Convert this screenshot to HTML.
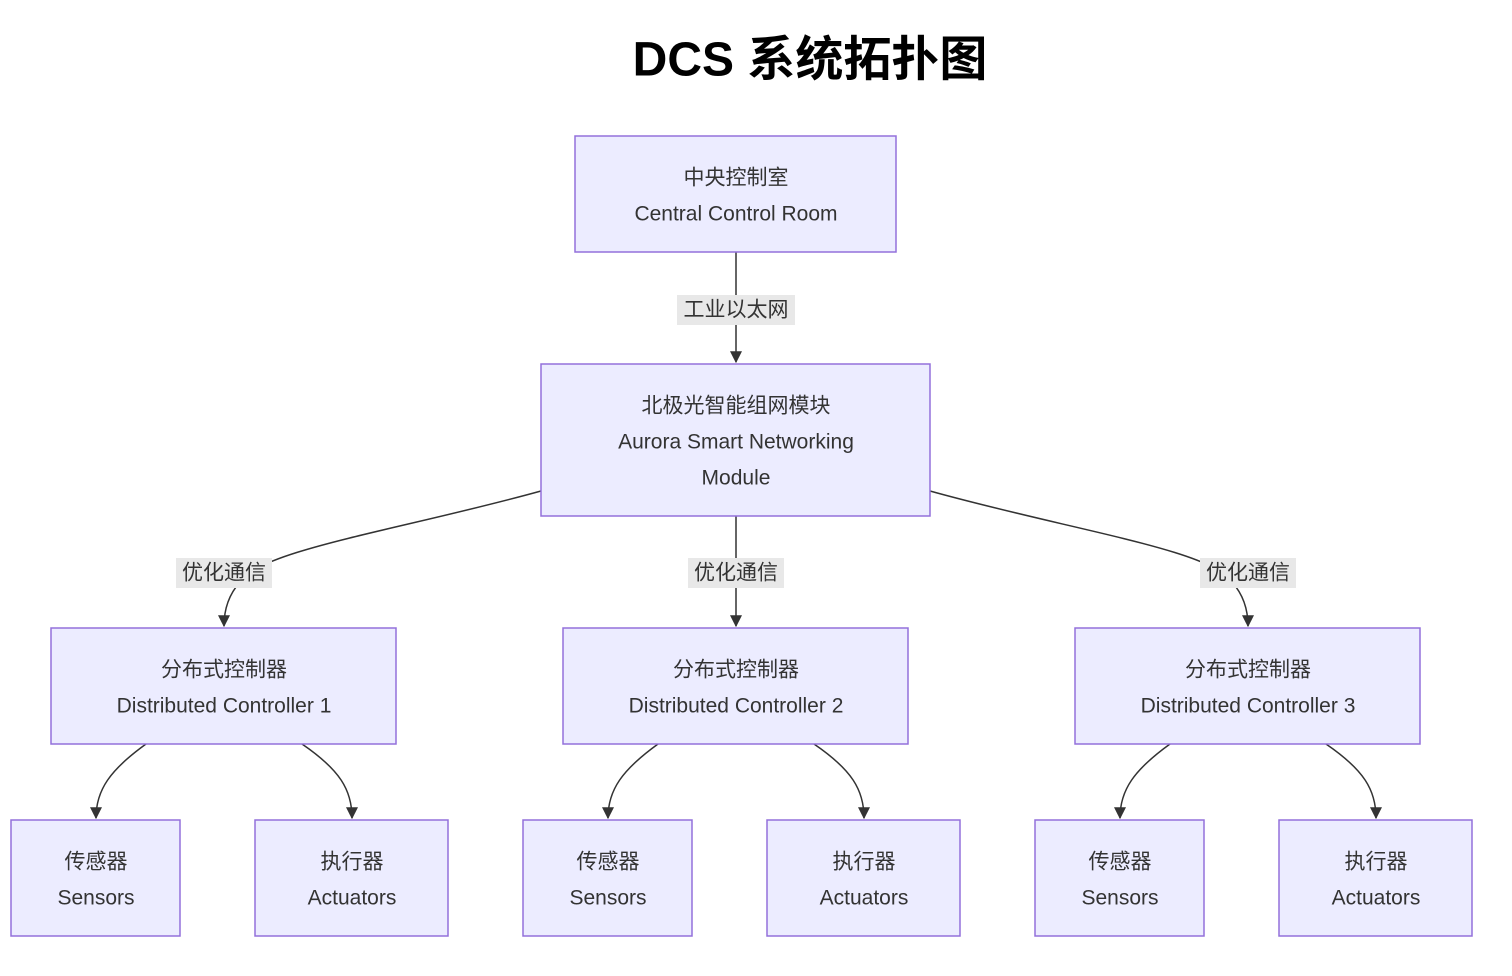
<!DOCTYPE html>
<html><head><meta charset="utf-8"><style>
html,body{margin:0;padding:0;background:#fff;}
svg{display:block;}
text{font-family:"Liberation Sans","Noto Sans CJK SC",sans-serif;fill:#333;font-size:21px;text-anchor:middle;dominant-baseline:central;}
.t{font-size:48px;font-weight:bold;fill:#000;}
rect.n{fill:#ECECFF;stroke:#9370DB;stroke-width:1.5;}
rect.l{fill:#e8e8e8;}
path.e{fill:none;stroke:#333;stroke-width:1.5;}
</style></head><body>
<svg width="1512" height="976" viewBox="0 0 1512 976" xmlns="http://www.w3.org/2000/svg">
<defs><marker id="a" viewBox="0 0 10 10" refX="9" refY="5" markerWidth="8" markerHeight="8" orient="auto-start-reverse"><path d="M0,0 L10,5 L0,10 z" fill="#333"/></marker></defs>
<text class="t" x="810" y="60">DCS 系统拓扑图</text>

<path class="e" d="M736,252 L736,362" marker-end="url(#a)"/>
<path class="e" d="M541,491 C400,530 260,550 240,582 Q224,600 224,626" marker-end="url(#a)"/>
<path class="e" d="M736,516 L736,626" marker-end="url(#a)"/>
<path class="e" d="M930,491 C1070,530 1212,550 1232,582 Q1248,600 1248,626" marker-end="url(#a)"/>

<g id="g1">
<path class="e" d="M146,744 C110,770 96,790 96,818" marker-end="url(#a)"/>
<path class="e" d="M302,744 C340,770 352,790 352,818" marker-end="url(#a)"/>
</g>
<g transform="translate(512,0)"><path class="e" d="M146,744 C110,770 96,790 96,818" marker-end="url(#a)"/><path class="e" d="M302,744 C340,770 352,790 352,818" marker-end="url(#a)"/></g>
<g transform="translate(1024,0)"><path class="e" d="M146,744 C110,770 96,790 96,818" marker-end="url(#a)"/><path class="e" d="M302,744 C340,770 352,790 352,818" marker-end="url(#a)"/></g>

<rect class="l" x="677" y="295" width="118" height="30"/><text x="736" y="310">工业以太网</text>
<rect class="l" x="176" y="558" width="96" height="30"/><text x="224" y="573">优化通信</text>
<rect class="l" x="688" y="558" width="96" height="30"/><text x="736" y="573">优化通信</text>
<rect class="l" x="1200" y="558" width="96" height="30"/><text x="1248" y="573">优化通信</text>

<rect class="n" x="575" y="136" width="321" height="116"/>
<text x="736" y="178">中央控制室</text><text x="736" y="214">Central Control Room</text>

<rect class="n" x="541" y="364" width="389" height="152"/>
<text x="736" y="406">北极光智能组网模块</text><text x="736" y="442">Aurora Smart Networking</text><text x="736" y="478">Module</text>

<rect class="n" x="51" y="628" width="345" height="116"/>
<text x="224" y="670">分布式控制器</text><text x="224" y="706">Distributed Controller 1</text>
<rect class="n" x="563" y="628" width="345" height="116"/>
<text x="736" y="670">分布式控制器</text><text x="736" y="706">Distributed Controller 2</text>
<rect class="n" x="1075" y="628" width="345" height="116"/>
<text x="1248" y="670">分布式控制器</text><text x="1248" y="706">Distributed Controller 3</text>

<rect class="n" x="11" y="820" width="169" height="116"/>
<text x="96" y="862">传感器</text><text x="96" y="898">Sensors</text>
<rect class="n" x="255" y="820" width="193" height="116"/>
<text x="352" y="862">执行器</text><text x="352" y="898">Actuators</text>

<rect class="n" x="523" y="820" width="169" height="116"/>
<text x="608" y="862">传感器</text><text x="608" y="898">Sensors</text>
<rect class="n" x="767" y="820" width="193" height="116"/>
<text x="864" y="862">执行器</text><text x="864" y="898">Actuators</text>

<rect class="n" x="1035" y="820" width="169" height="116"/>
<text x="1120" y="862">传感器</text><text x="1120" y="898">Sensors</text>
<rect class="n" x="1279" y="820" width="193" height="116"/>
<text x="1376" y="862">执行器</text><text x="1376" y="898">Actuators</text>
</svg>
</body></html>
